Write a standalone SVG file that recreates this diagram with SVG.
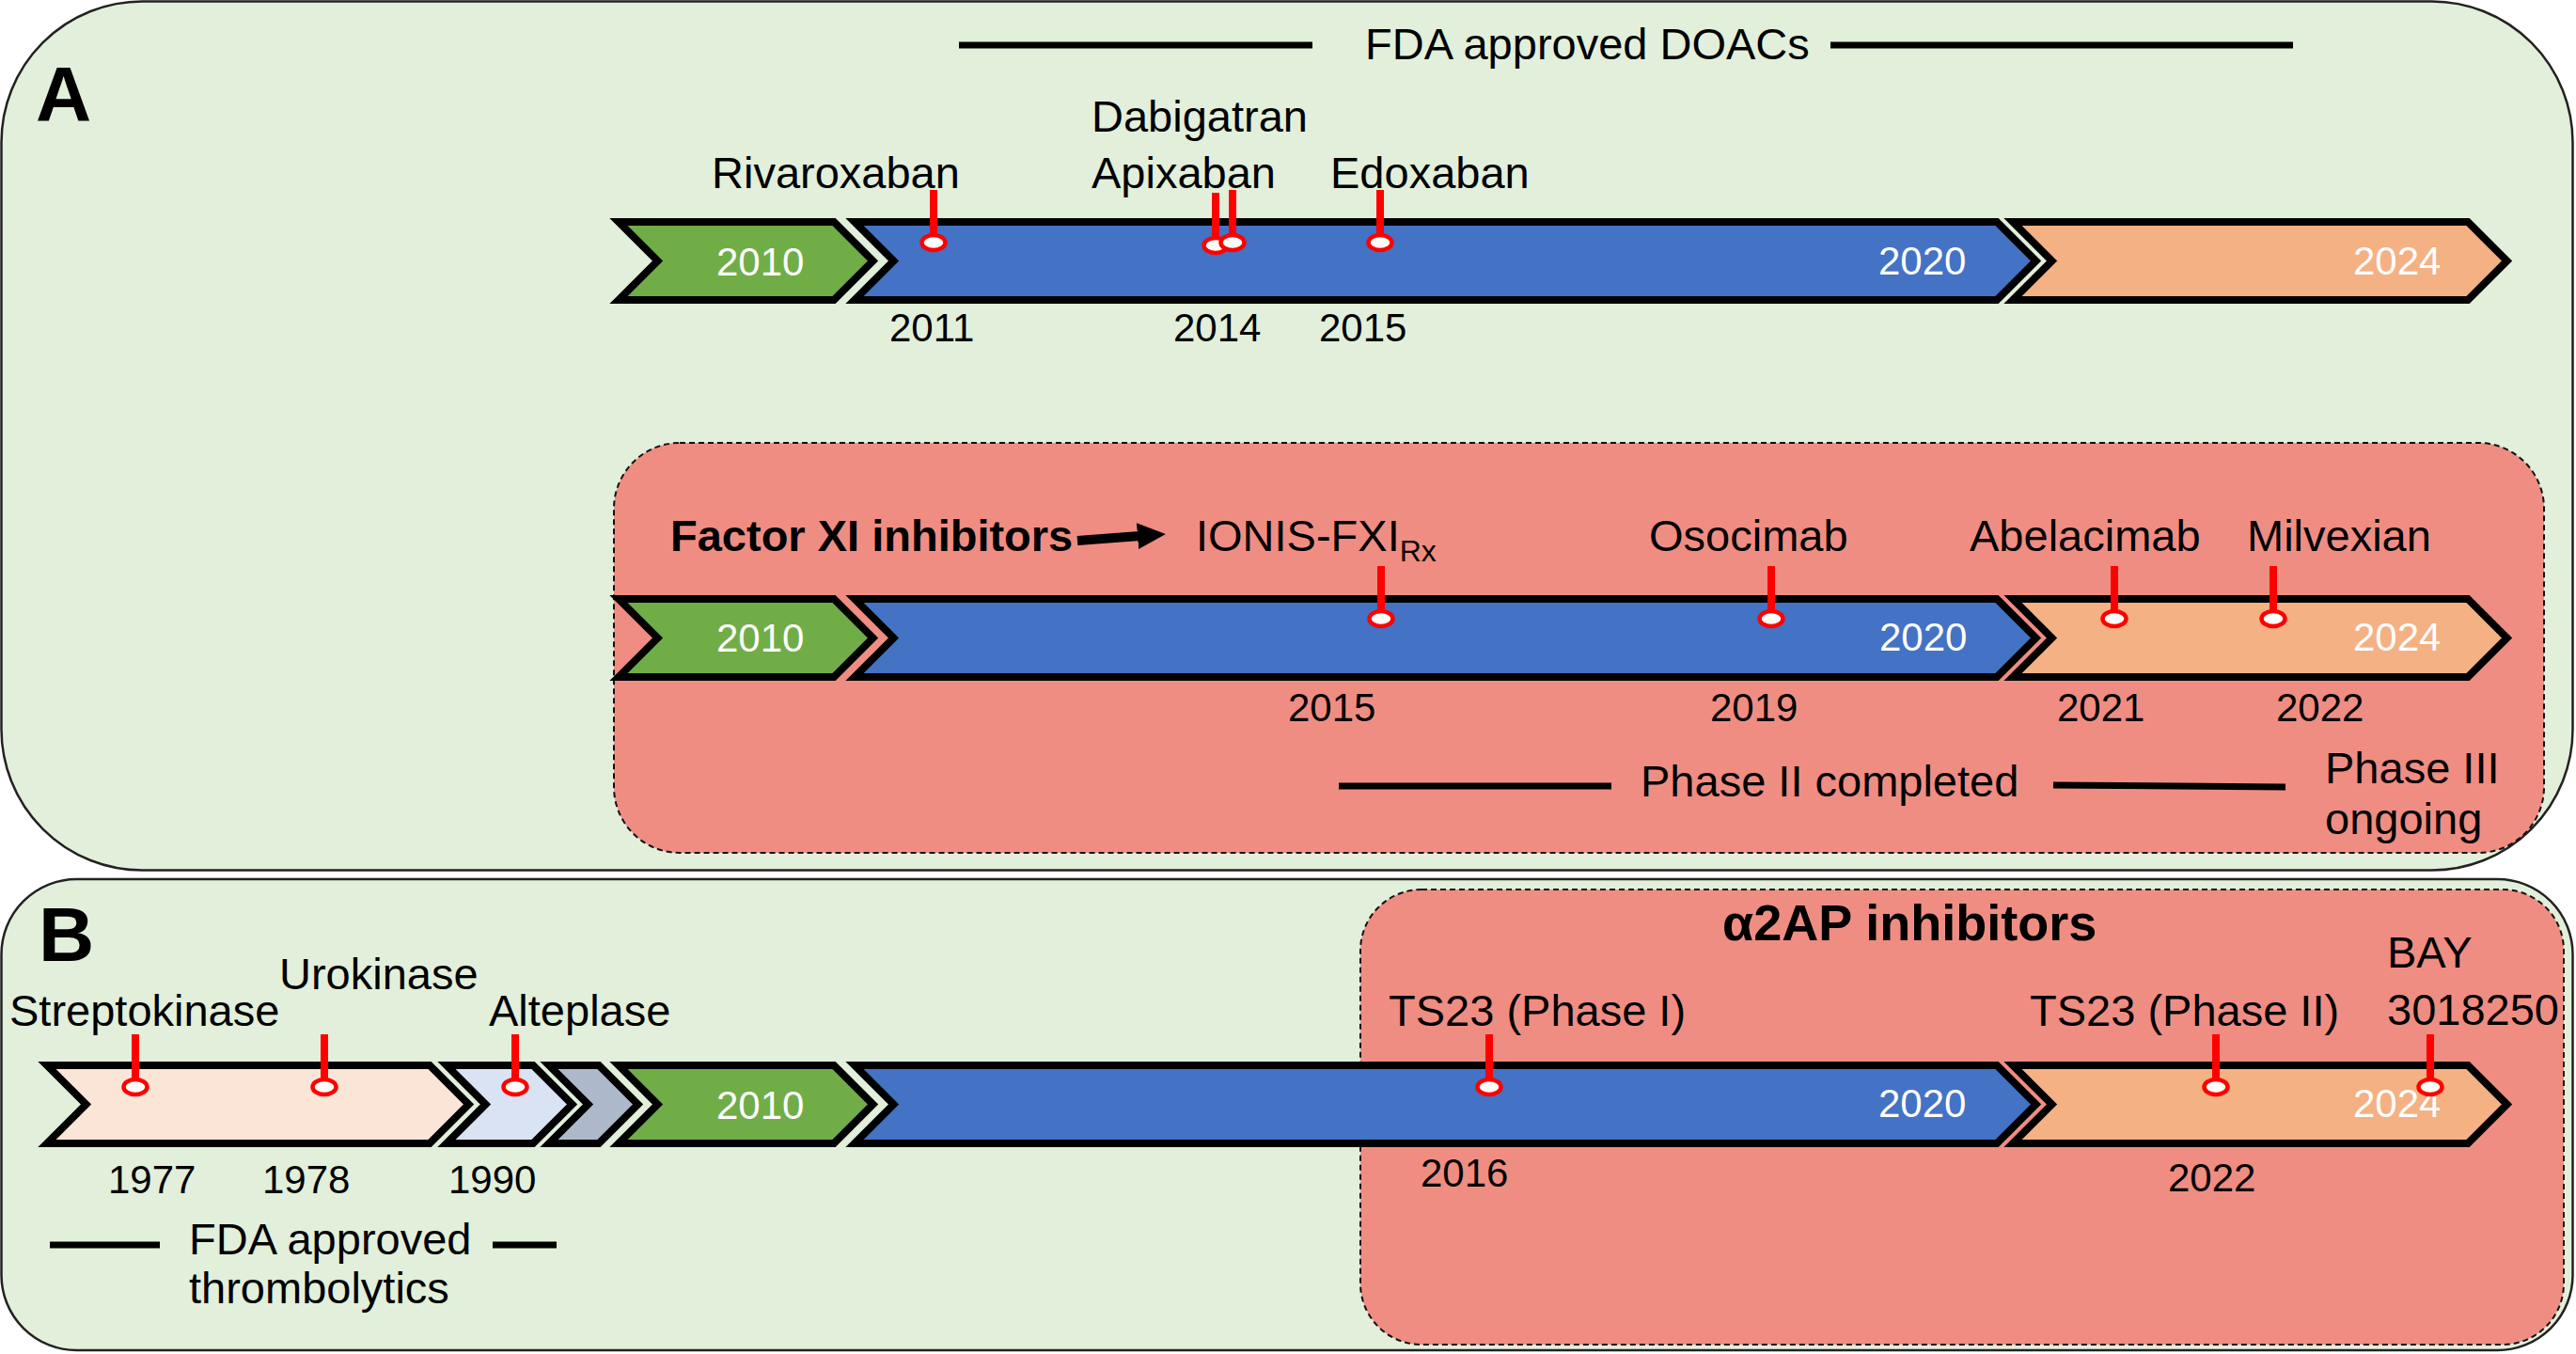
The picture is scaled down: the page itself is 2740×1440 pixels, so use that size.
<svg xmlns="http://www.w3.org/2000/svg" xmlns:xlink="http://www.w3.org/1999/xlink" width="2740" height="1440" viewBox="0 0 2740 1440">
<style>
  text { font-family: "Liberation Sans", Arial, sans-serif; fill: #000; }
  .lbl { font-size: 47px; }
  .yr { font-size: 42px; }
  .cy { font-size: 42px; fill: #fff; }
  .bold { font-weight: bold; }
  .panel { fill: #E2EFDA; stroke: #222; stroke-width: 2.5; }
  .redbox { fill: #F08D82; stroke: #111; stroke-width: 2; stroke-dasharray: 6 4; }
  .chev { stroke: #000; stroke-width: 8; stroke-linejoin: miter; stroke-miterlimit: 10; }
  .green { fill: #70AD47; }
  .blue { fill: #4472C4; }
  .orange { fill: #F4B183; }
  .peach { fill: #FBE5D6; }
  .ltblue { fill: #DAE3F3; }
  .grey { fill: #ADB9CA; }
  .rule { stroke: #000; stroke-width: 7; }
</style>
<defs>
  <g id="pin">
    <line x1="0" y1="-56" x2="0" y2="-8" stroke="#FF0000" stroke-width="8"/>
    <ellipse cx="0" cy="0" rx="12.5" ry="8" fill="#fff" stroke="#FF0000" stroke-width="4.5"/>
  </g>
  <marker id="arrowhead" markerUnits="userSpaceOnUse" markerWidth="32" markerHeight="30" refX="2" refY="14" orient="auto">
    <path d="M0,0 L30,14 L0,28 Z" fill="#000"/>
  </marker>
</defs>

<!-- Panel A -->
<g id="panelA">
  <rect class="panel" x="1.5" y="1.5" width="2735" height="924" rx="150" ry="150"/>
  <text class="bold" x="38" y="128" font-size="82">A</text>
</g>

<g id="doacTitle">
  <line class="rule" x1="1020" y1="48" x2="1396" y2="48"/>
  <text class="lbl" x="1452" y="63">FDA approved DOACs</text>
  <line class="rule" x1="1947" y1="48" x2="2439" y2="48"/>
</g>

<g id="timelineA1">
  <polygon class="chev green" points="658,236 887,236 928.5,277.5 887,319 658,319 699.5,277.5"/>
  <polygon class="chev blue" points="909,236 2124,236 2165.5,277.5 2124,319 909,319 950.5,277.5"/>
  <polygon class="chev orange" points="2141,236 2625,236 2666.5,277.5 2625,319 2141,319 2182.5,277.5"/>
  <text class="cy" x="762" y="293">2010</text>
  <text class="cy" x="1998" y="292">2020</text>
  <text class="cy" x="2503" y="292">2024</text>
</g>

<g id="doacEvents">
  <text class="lbl" x="757" y="200">Rivaroxaban</text>
  <text class="lbl" x="1161" y="140">Dabigatran</text>
  <text class="lbl" x="1161" y="200">Apixaban</text>
  <text class="lbl" x="1415" y="200">Edoxaban</text>
  <use xlink:href="#pin" x="993" y="258"/>
  <use xlink:href="#pin" x="1293" y="261"/>
  <use xlink:href="#pin" x="1311" y="258"/>
  <use xlink:href="#pin" x="1468" y="258"/>
  <text class="yr" x="946" y="363">2011</text>
  <text class="yr" x="1248" y="363">2014</text>
  <text class="yr" x="1403" y="363">2015</text>
</g>

<g id="factorXI">
  <rect class="redbox" x="653" y="471" width="2053" height="436" rx="70" ry="70"/>
  <text class="lbl bold" x="713" y="586">Factor XI inhibitors</text>
  <text class="lbl" x="1272" y="586">IONIS-FXI<tspan font-size="32" dy="11">Rx</tspan></text>
  <text class="lbl" x="1754" y="586">Osocimab</text>
  <text class="lbl" x="2095" y="586">Abelacimab</text>
  <text class="lbl" x="2390" y="586">Milvexian</text>
</g>

<g id="timelineA2">
  <polygon class="chev green" points="658,637 887,637 928.5,678.5 887,720 658,720 699.5,678.5"/>
  <polygon class="chev blue" points="909,637 2124,637 2165.5,678.5 2124,720 909,720 950.5,678.5"/>
  <polygon class="chev orange" points="2141,637 2625,637 2666.5,678.5 2625,720 2141,720 2182.5,678.5"/>
  <text class="cy" x="762" y="693">2010</text>
  <text class="cy" x="1999" y="692">2020</text>
  <text class="cy" x="2503" y="692">2024</text>
</g>

<g id="factorXIEvents">
  <use xlink:href="#pin" x="1469" y="658"/>
  <use xlink:href="#pin" x="1884" y="658"/>
  <use xlink:href="#pin" x="2249" y="658"/>
  <use xlink:href="#pin" x="2418" y="658"/>
  <text class="yr" x="1370" y="767">2015</text>
  <text class="yr" x="1819" y="767">2019</text>
  <text class="yr" x="2188" y="767">2021</text>
  <text class="yr" x="2421" y="767">2022</text>
</g>

<g id="phaseLegend">
  <line class="rule" x1="1424" y1="836" x2="1714" y2="836" stroke-width="8"/>
  <text class="lbl" x="1745" y="847">Phase II completed</text>
  <line class="rule" x1="2184" y1="835" x2="2431" y2="837" stroke-width="8"/>
  <text class="lbl" x="2473" y="833">Phase III</text>
  <text class="lbl" x="2473" y="887">ongoing</text>
</g>

<!-- Panel B -->
<g id="panelB">
  <rect class="panel" x="1.5" y="935" width="2735" height="501" rx="80" ry="80"/>
  <text class="bold" x="41" y="1022" font-size="82">B</text>
</g>

<g id="a2apBox">
  <rect class="redbox" x="1447" y="946" width="1280" height="484" rx="65" ry="65"/>
  <text class="bold" x="1832" y="1000" font-size="54">α2AP inhibitors</text>
</g>

<g id="timelineB">
  <polygon class="chev peach" points="50,1133 457,1133 498.5,1174.5 457,1216 50,1216 91.5,1174.5"/>
  <polygon class="chev ltblue" points="475,1133 567,1133 608.5,1174.5 567,1216 475,1216 516.5,1174.5"/>
  <polygon class="chev grey" points="584,1133 637,1133 678.5,1174.5 637,1216 584,1216 625.5,1174.5"/>
  <polygon class="chev green" points="658,1133 887,1133 928.5,1174.5 887,1216 658,1216 699.5,1174.5"/>
  <polygon class="chev blue" points="909,1133 2124,1133 2165.5,1174.5 2124,1216 909,1216 950.5,1174.5"/>
  <polygon class="chev orange" points="2141,1133 2625,1133 2666.5,1174.5 2625,1216 2141,1216 2182.5,1174.5"/>
  <text class="cy" x="762" y="1190">2010</text>
  <text class="cy" x="1998" y="1188">2020</text>
  <text class="cy" x="2503" y="1188">2024</text>
</g>

<g id="thromboEvents">
  <text class="lbl" x="10" y="1091">Streptokinase</text>
  <text class="lbl" x="297" y="1052">Urokinase</text>
  <text class="lbl" x="520" y="1091">Alteplase</text>
  <use xlink:href="#pin" x="144" y="1156"/>
  <use xlink:href="#pin" x="345" y="1156"/>
  <use xlink:href="#pin" x="548" y="1156"/>
  <text class="yr" x="115" y="1269">1977</text>
  <text class="yr" x="279" y="1269">1978</text>
  <text class="yr" x="477" y="1269">1990</text>
  <line class="rule" x1="53" y1="1324" x2="170" y2="1324" stroke-width="6"/>
  <text class="lbl" x="201" y="1334">FDA approved</text>
  <line class="rule" x1="524" y1="1324" x2="592" y2="1324" stroke-width="6"/>
  <text class="lbl" x="201" y="1386">thrombolytics</text>
</g>

<g id="a2apEvents">
  <text class="lbl" x="1477" y="1091">TS23 (Phase I)</text>
  <text class="lbl" x="2159" y="1091">TS23 (Phase II)</text>
  <text class="lbl" x="2539" y="1029">BAY</text>
  <text class="lbl" x="2539" y="1090">3018250</text>
  <use xlink:href="#pin" x="1584" y="1156"/>
  <use xlink:href="#pin" x="2357" y="1156"/>
  <use xlink:href="#pin" x="2585" y="1156"/>
  <text class="yr" x="1511" y="1262">2016</text>
  <text class="yr" x="2306" y="1267">2022</text>
</g>

<g id="connectors">
  <line x1="1146" y1="575" x2="1212" y2="570" stroke="#000" stroke-width="10" marker-end="url(#arrowhead)"/>
</g>
</svg>
